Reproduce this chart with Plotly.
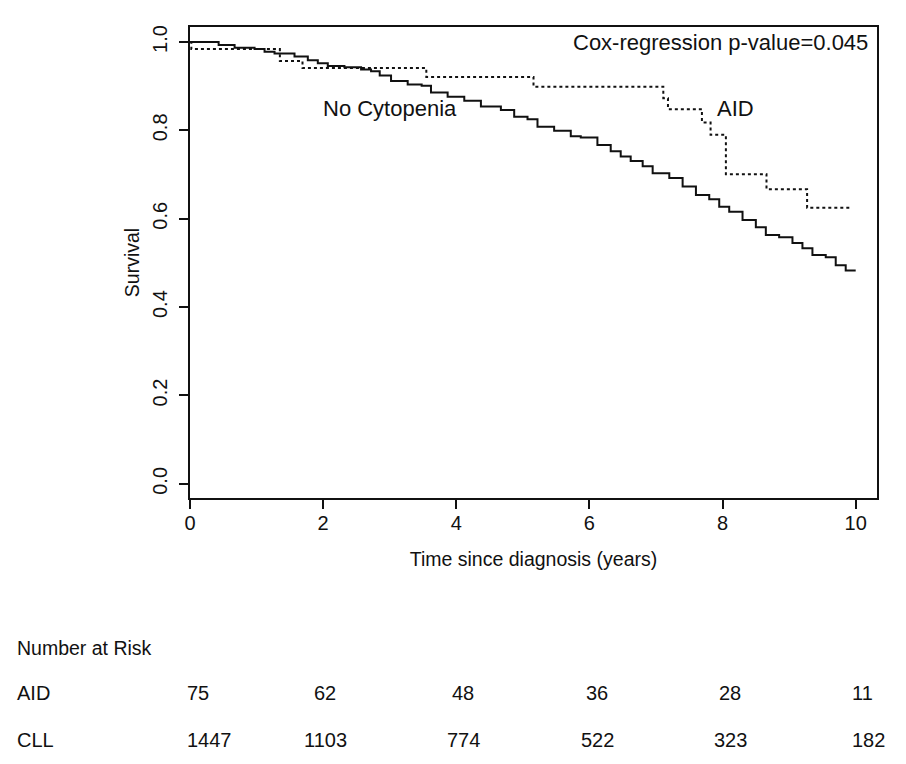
import plotly.graph_objects as go

# ---- data ----
cll_t = [0.0, 0.25, 0.43, 0.67, 0.97, 1.12, 1.27, 1.57, 1.77, 1.92, 2.07, 2.32, 2.57, 2.72,
         2.85, 3.02, 3.27, 3.48, 3.62, 3.87, 4.12, 4.37, 4.67, 4.87, 5.07, 5.22, 5.47, 5.72,
         5.87, 6.12, 6.32, 6.47, 6.62, 6.8, 6.95, 7.2, 7.4, 7.6, 7.8, 7.95, 8.1, 8.3, 8.5,
         8.65, 8.85, 9.05, 9.2, 9.35, 9.55, 9.7, 9.85, 10.0]
cll_s = [1.0, 1.0, 0.993, 0.987, 0.984, 0.978, 0.974, 0.967, 0.959, 0.952, 0.946, 0.943, 0.938, 0.934,
         0.924, 0.912, 0.904, 0.901, 0.886, 0.876, 0.867, 0.854, 0.846, 0.831, 0.825, 0.808, 0.799, 0.787,
         0.784, 0.767, 0.753, 0.741, 0.731, 0.719, 0.703, 0.692, 0.673, 0.654, 0.644, 0.627, 0.616, 0.597, 0.581,
         0.563, 0.558, 0.545, 0.533, 0.518, 0.513, 0.495, 0.483, 0.483]

aid_t = [0.0, 0.02, 1.35, 1.69, 3.55, 5.16, 7.11, 7.18, 7.69, 7.82, 8.05, 8.66, 9.27, 9.94]
aid_s = [1.0, 0.984, 0.957, 0.941, 0.921, 0.899, 0.873, 0.848, 0.818, 0.790, 0.701, 0.667, 0.625, 0.625]

x_ticks = [0, 2, 4, 6, 8, 10]
y_ticks = [0.0, 0.2, 0.4, 0.6, 0.8, 1.0]
y_tick_text = ["0.0", "0.2", "0.4", "0.6", "0.8", "1.0"]

risk_groups = ["AID", "CLL"]
risk_aid = [75, 62, 48, 36, 28, 11]
risk_cll = [1447, 1103, 774, 522, 323, 182]

FONT = "Liberation Sans, Arial, sans-serif"
BLACK = "#111111"

fig = go.Figure()
fig.add_trace(go.Scatter(x=cll_t, y=cll_s, mode="lines", line=dict(color=BLACK, width=2, shape="hv"),
                         name="No Cytopenia", showlegend=False, hoverinfo="skip"))
fig.add_trace(go.Scatter(x=aid_t, y=aid_s, mode="lines", line=dict(color=BLACK, width=2, shape="hv", dash="dot"),
                         name="AID", showlegend=False, hoverinfo="skip"))

ann = []
lf = dict(size=22, family=FONT, color=BLACK)
ann.append(dict(x=10.22, y=0.998, xref="x", yref="y", text="Cox-regression p-value=0.045",
                showarrow=False, xanchor="right", yanchor="middle", font=lf))
ann.append(dict(x=3.0, y=0.85, xref="x", yref="y", text="No Cytopenia",
                showarrow=False, xanchor="center", yanchor="middle", font=lf))
ann.append(dict(x=8.2, y=0.85, xref="x", yref="y", text="AID",
                showarrow=False, xanchor="center", yanchor="middle", font=lf))

# page has an 8px body margin: size the figure so it fits the window
OFF = 8
W, H = 906 - 2 * OFF, 764 - 2 * OFF
ML, MT = 190 - OFF, 27 - OFF
pw, ph = 877 - 190, 498 - 27
MR, MB = W - ML - pw, H - MT - ph

def px(xp):
    return (xp - OFF - ML) / pw

def py(yp):
    return (MT + ph - (yp - OFF)) / ph

tf = dict(size=20, family=FONT, color=BLACK)
ann.append(dict(x=px(15), y=py(648), xref="paper", yref="paper", text="Number at Risk", showarrow=False,
                xanchor="left", yanchor="middle", font=dict(size=19.5, family=FONT, color=BLACK)))
row_y = [693, 740]
col_x = [185, 325, 463, 597, 730, 850]
col_anchor = ["left", "center", "center", "center", "center", "left"]
for g, vals, yy in zip(risk_groups, [risk_aid, risk_cll], row_y):
    ann.append(dict(x=px(15), y=py(yy), xref="paper", yref="paper", text=g, showarrow=False,
                    xanchor="left", yanchor="middle", font=tf))
    for v, xx, a in zip(vals, col_x, col_anchor):
        ann.append(dict(x=px(xx), y=py(yy), xref="paper", yref="paper", text=str(v), showarrow=False,
                        xanchor=a, yanchor="middle", font=tf))

fig.update_layout(
    width=W, height=H,
    margin=dict(l=ML, r=MR, t=MT, b=MB, pad=0),
    plot_bgcolor="white", paper_bgcolor="white",
    annotations=ann,
    xaxis=dict(range=[0, 10.32], tickvals=x_ticks, ticktext=[str(v) for v in x_ticks],
               showgrid=False, zeroline=False, showline=True, linecolor=BLACK, linewidth=1.5, mirror=True,
               ticks="outside", ticklen=9, tickwidth=1.5, tickcolor=BLACK, ticklabelstandoff=-3,
               tickfont=dict(size=20, family=FONT, color=BLACK),
               title=dict(text="Time since diagnosis (years)", font=dict(size=19.5, family=FONT, color=BLACK), standoff=20)),
    yaxis=dict(range=[-0.032, 1.034], tickvals=y_ticks, ticktext=y_tick_text, tickangle=-90,
               showgrid=False, zeroline=False, showline=True, linecolor=BLACK, linewidth=1.5, mirror=True,
               ticks="outside", ticklen=9, tickwidth=1.5, tickcolor=BLACK, ticklabelstandoff=4,
               tickfont=dict(size=20, family=FONT, color=BLACK),
               title=dict(text="Survival", font=dict(size=19.5, family=FONT, color=BLACK), standoff=4)),
)

fig.write_html("out.html")
